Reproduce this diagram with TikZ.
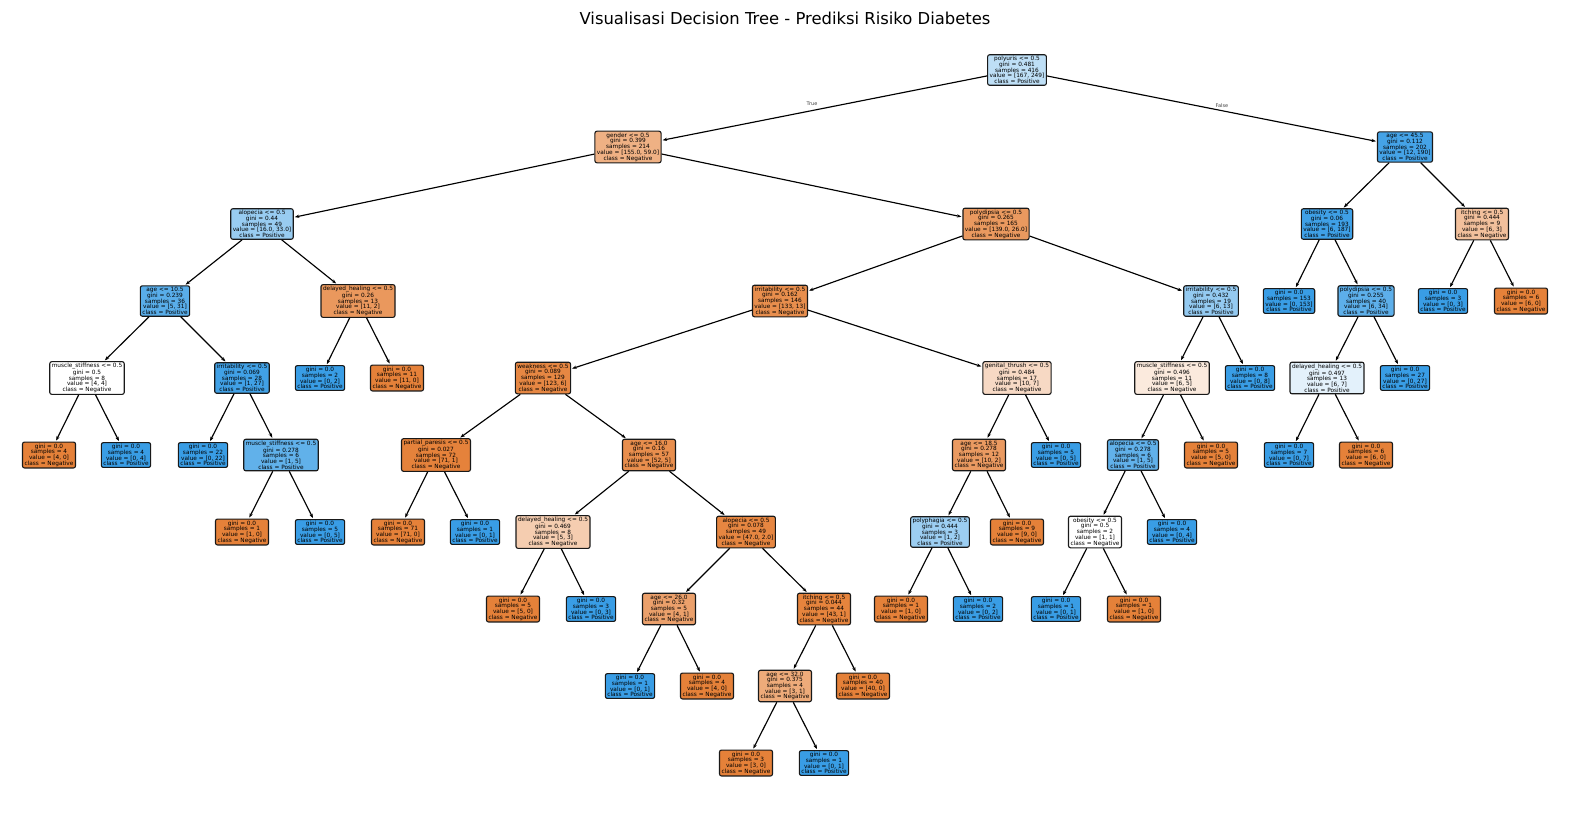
\documentclass[tikz,border=0pt]{standalone}
\usepackage{fontspec}
\setmainfont{DejaVu Sans}
\usetikzlibrary{arrows.meta}
\definecolor{ora}{RGB}{229,129,57}
\definecolor{blu}{RGB}{57,157,229}
\newcommand\lfn[3]{gini = 0.0\\samples = #1\\value = [#2]\\class = #3}
\newcommand\spl[5]{#1\\gini = #2\\samples = #3\\value = [#4]\\class = #5}
\begin{document}
\begin{tikzpicture}[x=1pt,y=-1pt,
  tn/.style={draw=black!90, line width=1.1pt, rounded corners=2pt, align=center,
    font=\fontsize{5.8}{5.7}\selectfont, inner xsep=2pt, inner ysep=1.6pt},
  O/.style={tn, fill=ora}, B/.style={tn, fill=blu},
  ed/.style={line width=1.15pt, -{Stealth[length=4.5pt,width=3.3pt]}, shorten >=1pt},
  lbl/.style={font=\fontsize{5}{5}\selectfont, text=black!75, inner sep=0pt}]
\useasboundingbox (0,0) rectangle (1570,812);
\node[font=\fontsize{16.4}{19}\selectfont, inner sep=0pt] (title) at (785,18) {Visualisasi Decision Tree - Prediksi Risiko Diabetes};
% level 0
\node[tn, fill=blu!33!white] (n0) at (1017,70) {\spl{polyuris <= 0.5}{0.481}{416}{167, 249}{Positive}};
% level 1
\node[tn, fill=ora!62!white] (n1) at (628,147) {\spl{gender <= 0.5}{0.399}{214}{155.0, 59.0}{Negative}};
\node[tn, fill=blu!94!white] (n2) at (1405,147) {\spl{age <= 45.5}{0.112}{202}{12, 190}{Positive}};
% level 2
\node[tn, fill=blu!52!white] (n3) at (262,224) {\spl{alopecia <= 0.5}{0.44}{49}{16.0, 33.0}{Positive}};
\node[tn, fill=ora!81!white] (n4) at (996,224) {\spl{polydipsia <= 0.5}{0.265}{165}{139.0, 26.0}{Negative}};
\node[tn, fill=blu!97!white] (n5) at (1327,224) {\spl{obesity <= 0.5}{0.06}{193}{6, 187}{Positive}};
\node[tn, fill=ora!50!white] (n6) at (1482,224) {\spl{itching <= 0.5}{0.444}{9}{6, 3}{Negative}};
% level 3
\node[tn, fill=blu!84!white] (n7) at (165,301) {\spl{age <= 10.5}{0.239}{36}{5, 31}{Positive}};
\node[tn, fill=ora!82!white] (n8) at (358,301) {\spl{delayed\_healing <= 0.5}{0.26}{13}{11, 2}{Negative}};
\node[tn, fill=ora!90!white] (n9) at (780,301) {\spl{irritability <= 0.5}{0.162}{146}{133, 13}{Negative}};
\node[tn, fill=blu!54!white] (n10) at (1211,301) {\spl{irritability <= 0.5}{0.432}{19}{6, 13}{Positive}};
\node[B] (n11) at (1289,301) {\lfn{153}{0, 153}{Positive}};
\node[tn, fill=blu!82!white] (n12) at (1366,301) {\spl{polydipsia <= 0.5}{0.255}{40}{6, 34}{Positive}};
\node[B] (n13) at (1443,301) {\lfn{3}{0, 3}{Positive}};
\node[O] (n14) at (1521,301) {\lfn{6}{6, 0}{Negative}};
% level 4
\node[tn, fill=white] (n15) at (87,378) {\spl{muscle\_stiffness <= 0.5}{0.5}{8}{4, 4}{Negative}};
\node[tn, fill=blu!96!white] (n16) at (242,378) {\spl{irritability <= 0.5}{0.069}{28}{1, 27}{Positive}};
\node[B] (n17) at (320,378) {\lfn{2}{0, 2}{Positive}};
\node[O] (n18) at (397,378) {\lfn{11}{11, 0}{Negative}};
\node[tn, fill=ora!95!white] (n19) at (543,378) {\spl{weakness <= 0.5}{0.089}{129}{123, 6}{Negative}};
\node[tn, fill=ora!30!white] (n20) at (1017,378) {\spl{genital\_thrush <= 0.5}{0.484}{17}{10, 7}{Negative}};
\node[tn, fill=ora!17!white] (n21) at (1172,378) {\spl{muscle\_stiffness <= 0.5}{0.496}{11}{6, 5}{Negative}};
\node[B] (n22) at (1250,378) {\lfn{8}{0, 8}{Positive}};
\node[tn, fill=blu!14!white] (n23) at (1327,378) {\spl{delayed\_healing <= 0.5}{0.497}{13}{6, 7}{Positive}};
\node[B] (n24) at (1405,378) {\lfn{27}{0, 27}{Positive}};
% level 5
\node[O] (n25) at (49,455) {\lfn{4}{4, 0}{Negative}};
\node[B] (n26) at (126,455) {\lfn{4}{0, 4}{Positive}};
\node[B] (n27) at (203,455) {\lfn{22}{0, 22}{Positive}};
\node[tn, fill=blu!80!white] (n28) at (281,455) {\spl{muscle\_stiffness <= 0.5}{0.278}{6}{1, 5}{Positive}};
\node[tn, fill=ora!99!white] (n29) at (436,455) {\spl{partial\_paresis <= 0.5}{0.027}{72}{71, 1}{Negative}};
\node[tn, fill=ora!90!white] (n30) at (649,455) {\spl{age <= 16.0}{0.16}{57}{52, 5}{Negative}};
\node[tn, fill=ora!80!white] (n31) at (979,455) {\spl{age <= 18.5}{0.278}{12}{10, 2}{Negative}};
\node[B] (n32) at (1056,455) {\lfn{5}{0, 5}{Positive}};
\node[tn, fill=blu!80!white] (n33) at (1133,455) {\spl{alopecia <= 0.5}{0.278}{6}{1, 5}{Positive}};
\node[O] (n34) at (1211,455) {\lfn{5}{5, 0}{Negative}};
\node[B] (n35) at (1289,455) {\lfn{7}{0, 7}{Positive}};
\node[O] (n36) at (1366,455) {\lfn{6}{6, 0}{Negative}};
% level 6
\node[O] (n37) at (242,532) {\lfn{1}{1, 0}{Negative}};
\node[B] (n38) at (320,532) {\lfn{5}{0, 5}{Positive}};
\node[O] (n39) at (398,532) {\lfn{71}{71, 0}{Negative}};
\node[B] (n40) at (475,532) {\lfn{1}{0, 1}{Positive}};
\node[tn, fill=ora!40!white] (n41) at (553,532) {\spl{delayed\_healing <= 0.5}{0.469}{8}{5, 3}{Negative}};
\node[tn, fill=ora!96!white] (n42) at (746,532) {\spl{alopecia <= 0.5}{0.078}{49}{47.0, 2.0}{Negative}};
\node[tn, fill=blu!50!white] (n43) at (940,532) {\spl{polyphagia <= 0.5}{0.444}{3}{1, 2}{Positive}};
\node[O] (n44) at (1017,532) {\lfn{9}{9, 0}{Negative}};
\node[tn, fill=white] (n45) at (1095,532) {\spl{obesity <= 0.5}{0.5}{2}{1, 1}{Negative}};
\node[B] (n46) at (1172,532) {\lfn{4}{0, 4}{Positive}};
% level 7
\node[O] (n47) at (513,609) {\lfn{5}{5, 0}{Negative}};
\node[B] (n48) at (591,609) {\lfn{3}{0, 3}{Positive}};
\node[tn, fill=ora!75!white] (n49) at (669,609) {\spl{age <= 26.0}{0.32}{5}{4, 1}{Negative}};
\node[tn, fill=ora!98!white] (n50) at (824,609) {\spl{itching <= 0.5}{0.044}{44}{43, 1}{Negative}};
\node[O] (n51) at (901,609) {\lfn{1}{1, 0}{Negative}};
\node[B] (n52) at (978,609) {\lfn{2}{0, 2}{Positive}};
\node[B] (n53) at (1056,609) {\lfn{1}{0, 1}{Positive}};
\node[O] (n54) at (1134,609) {\lfn{1}{1, 0}{Negative}};
% level 8
\node[B] (n55) at (630,686) {\lfn{1}{0, 1}{Positive}};
\node[O] (n56) at (707,686) {\lfn{4}{4, 0}{Negative}};
\node[tn, fill=ora!67!white] (n57) at (785,686) {\spl{age <= 32.0}{0.375}{4}{3, 1}{Negative}};
\node[O] (n58) at (863,686) {\lfn{40}{40, 0}{Negative}};
% level 9
\node[O] (n59) at (746,763) {\lfn{3}{3, 0}{Negative}};
\node[B] (n60) at (824,763) {\lfn{1}{0, 1}{Positive}};
% edges
\foreach \a/\b in {n0/n1,n0/n2,n1/n3,n1/n4,n2/n5,n2/n6,n3/n7,n3/n8,n4/n9,n4/n10,
  n5/n11,n5/n12,n6/n13,n6/n14,n7/n15,n7/n16,n8/n17,n8/n18,n9/n19,n9/n20,
  n10/n21,n10/n22,n12/n23,n12/n24,n15/n25,n15/n26,n16/n27,n16/n28,n19/n29,n19/n30,
  n20/n31,n20/n32,n21/n33,n21/n34,n23/n35,n23/n36,n28/n37,n28/n38,n29/n39,n29/n40,
  n30/n41,n30/n42,n31/n43,n31/n44,n33/n45,n33/n46,n41/n47,n41/n48,n42/n49,n42/n50,
  n43/n51,n43/n52,n45/n53,n45/n54,n49/n55,n49/n56,n50/n57,n50/n58,n57/n59,n57/n60}
  \draw[ed] (\a) -- (\b);
\node[lbl] (ltrue) at (812,104) {True};
\node[lbl] (lfalse) at (1222,106) {False};
\end{tikzpicture}
\end{document}
